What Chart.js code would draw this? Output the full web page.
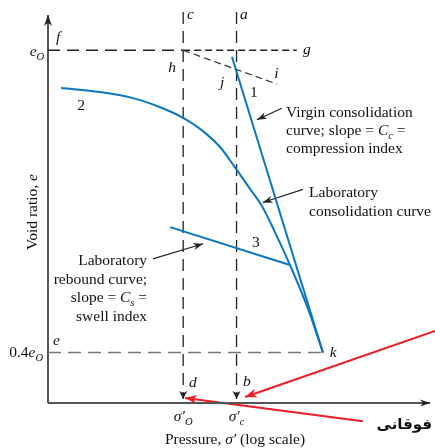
<!DOCTYPE html>
<html>
<head>
<meta charset="utf-8">
<script src="https://cdn.jsdelivr.net/npm/chart.js@4"></script>
<style>
  html, body { margin: 0; padding: 0; background: #fff; }
  canvas { display: block; }
</style>
</head>
<body>
<canvas id="myChart" width="435" height="448"></canvas>
<script>
// x = log of pressure (arbitrary units), y = void ratio as a fraction of e0
const curveX = [0.34, 1.35, 2.21, 2.92, 3.52, 3.96, 4.48, 4.92, 5.26, 5.57, 5.91, 6.30, 6.75, 7.16];
const curveY = [0.925, 0.917, 0.905, 0.887, 0.866, 0.844, 0.808, 0.762, 0.725, 0.691, 0.639, 0.574, 0.491, 0.40];
const virginX = [4.79, 7.16];
const virginY = [0.987, 0.40];
const reboundX = [3.18, 6.30];
const reboundY = [0.649, 0.574];

const e0 = 1.0;
const e04 = 0.4;
const sigmaO = 3.52;
const sigmaC = 4.91;
const gEnd = 6.48;
const iX = 5.96, iY = 0.933;
const kX = 7.16;
const yMin = 0.3, yMax = 1.07;
const xMin = 0, xMax = 10;

// pointer arrows (tail -> tip)
const virginPtrX = [6.09, 5.44], virginPtrY = [0.885, 0.862];
const labPtrX = [6.64, 5.59], labPtrY = [0.724, 0.698];
const reboundPtrX = [2.73, 4.04], reboundPtrY = [0.586, 0.616];
const red1X = [10.08, 5.13], red1Y = [0.443, 0.312];
const red2X = [8.20, 3.57], red2Y = [0.264, 0.310];

const BLUE = '#0a76c0';
const RED = '#ee1c24';

function pts(xs, ys) {
    return xs.map((x, i) => ({ x: x, y: ys[i] }));
}

const S = 15.5;
const notes = [
    { x: -0.10, y: 0.989, align: 'right', parts: [['e', 'i'], ['O', 's']] },
    { x: 0.21, y: 1.016, parts: [['f', 'i']] },
    { x: 3.13, y: 0.957, parts: [['h', 'i']] },
    { x: 3.62, y: 1.062, parts: [['c', 'i']] },
    { x: 5.00, y: 1.062, parts: [['a', 'i']] },
    { x: 6.64, y: 0.993, parts: [['g', 'i']] },
    { x: 5.89, y: 0.945, parts: [['i', 'i']] },
    { x: 4.48, y: 0.927, parts: [['j', 'i']] },
    { x: 5.26, y: 0.907, parts: [['1', 'r']] },
    { x: 0.76, y: 0.881, parts: [['2', 'r']] },
    { x: 5.31, y: 0.610, parts: [['3', 'r']] },
    { x: 0.13, y: 0.415, parts: [['e', 'i']] },
    { x: -0.13, y: 0.391, align: 'right', parts: [['0.4', 'r'], ['e', 'i'], ['O', 's']] },
    { x: 7.34, y: 0.391, parts: [['k', 'i']] },
    { x: 3.67, y: 0.332, parts: [['d', 'i']] },
    { x: 5.08, y: 0.334, parts: [['b', 'i']] },
    { x: sigmaO, y: 0.264, align: 'center', parts: [['σ′', 'i'], ['O', 's']] },
    { x: sigmaC, y: 0.264, align: 'center', parts: [['σ′', 'i'], ['c', 's']] },
    { x: 4.87, y: 0.219, align: 'center', parts: [['Pressure, ', 'r'], ['σ′', 'i'], [' (log scale)', 'r']] },
    { x: -0.29, y: 0.679, align: 'center', rotate: true, parts: [['Void ratio, ', 'r'], ['e', 'i']] },
    { x: 6.20, y: 0.868, parts: [['Virgin consolidation', 'r']] },
    { x: 6.20, y: 0.832, parts: [['curve; slope = ', 'r'], ['C', 'i'], ['c', 's'], [' =', 'r']] },
    { x: 6.20, y: 0.796, parts: [['compression index', 'r']] },
    { x: 6.80, y: 0.709, parts: [['Laboratory', 'r']] },
    { x: 6.80, y: 0.671, parts: [['consolidation curve', 'r']] },
    { x: 2.58, y: 0.574, align: 'right', parts: [['Laboratory', 'r']] },
    { x: 2.58, y: 0.536, align: 'right', parts: [['rebound curve;', 'r']] },
    { x: 2.58, y: 0.500, align: 'right', parts: [['slope = ', 'r'], ['C', 'i'], ['s', 's'], [' =', 'r']] },
    { x: 2.58, y: 0.463, align: 'right', parts: [['swell index', 'r']] },
    { x: 10.0, y: 0.248, align: 'right', parts: [['فوقانی', 'b']] }
];

function fontFor(style) {
    if (style == 'b') return 'bold 15px "DejaVu Sans"';
    if (style == 's') return 'italic ' + (S * 0.68) + 'px "Liberation Serif"';
    if (style == 'i') return 'italic ' + S + 'px "Liberation Serif"';
    return S + 'px "Liberation Serif"';
}

function drawRich(ctx, parts, x, y, align) {
    ctx.textAlign = 'left';
    ctx.textBaseline = 'alphabetic';
    let total = 0;
    parts.forEach(p => {
        ctx.font = fontFor(p[1]);
        total += ctx.measureText(p[0]).width;
    });
    let cx = x;
    if (align == 'right') cx = x - total;
    if (align == 'center') cx = x - total / 2;
    parts.forEach(p => {
        ctx.font = fontFor(p[1]);
        ctx.fillText(p[0], cx, p[1] == 's' ? y + 4 : y);
        cx += ctx.measureText(p[0]).width;
    });
}

function drawHead(ctx, x0, y0, x1, y1, color, h) {
    const ang = Math.atan2(y1 - y0, x1 - x0);
    ctx.save();
    ctx.translate(x1, y1);
    ctx.rotate(ang);
    ctx.setLineDash([]);
    ctx.fillStyle = color;
    ctx.beginPath();
    ctx.moveTo(0, 0);
    ctx.lineTo(-h[0], -h[1] / 2);
    ctx.lineTo(-h[0] * 0.7, 0);
    ctx.lineTo(-h[0], h[1] / 2);
    ctx.closePath();
    ctx.fill();
    ctx.restore();
}

const overlay = {
    id: 'overlay',
    afterDatasetsDraw(chart) {
        const ctx = chart.ctx;
        const xs = chart.scales.x, ys = chart.scales.y;
        chart.data.datasets.forEach((ds, i) => {
            if (!ds.arrow) return;
            const els = chart.getDatasetMeta(i).data;
            const a = els[els.length - 2], b = els[els.length - 1];
            drawHead(ctx, a.x, a.y, b.x, b.y, ds.headColor || ds.borderColor, ds.arrow);
        });
        ctx.save();
        ctx.fillStyle = '#111';
        notes.forEach(n => {
            const px = xs.getPixelForValue(n.x), py = ys.getPixelForValue(n.y);
            if (n.rotate) {
                ctx.save();
                ctx.translate(px, py);
                ctx.rotate(-Math.PI / 2);
                drawRich(ctx, n.parts, 0, 0, n.align);
                ctx.restore();
            } else {
                drawRich(ctx, n.parts, px, py, n.align || 'left');
            }
        });
        ctx.restore();
    }
};

function line(xs, ys, color, width, dash, arrow) {
    return {
        data: pts(xs, ys),
        showLine: true,
        borderColor: color,
        borderWidth: width,
        borderDash: dash || [],
        pointRadius: 0,
        fill: false,
        clip: false,
        arrow: arrow
    };
}

const curveSet = line(curveX, curveY, BLUE, 2);
curveSet.cubicInterpolationMode = 'monotone';
const yAxisSet = line([xMin, xMin], [yMin, yMax], '#555', 2, [], [11, 8]);
yAxisSet.headColor = '#222';
const xAxisSet = line([xMin, 9.95], [yMin, yMin], '#555', 2, [], [10, 7]);
xAxisSet.headColor = '#222';

const datasets = [
    curveSet,
    line(virginX, virginY, BLUE, 2),
    line(reboundX, reboundY, BLUE, 2),
    line([xMin, sigmaO], [e0, e0], '#222', 1.3, [12, 7]),
    line([sigmaO, gEnd], [e0, e0], '#222', 1.3, [7, 4]),
    line([sigmaO, iX], [e0, iY], '#333', 1.2, [7, 4]),
    line([sigmaO, sigmaO], [1.076, 0.308], '#222', 1.3, [12, 7], [8, 8]),
    line([sigmaC, sigmaC], [1.076, 0.308], '#222', 1.3, [12, 7], [8, 8]),
    line([xMin, kX], [e04, e04], '#777', 1.5, [13, 7]),
    yAxisSet,
    xAxisSet,
    line(virginPtrX, virginPtrY, '#222', 1.2, [], [10, 7]),
    line(labPtrX, labPtrY, '#222', 1.2, [], [10, 7]),
    line(reboundPtrX, reboundPtrY, '#222', 1.2, [], [10, 7]),
    line(red1X, red1Y, RED, 2, [], [12, 9]),
    line(red2X, red2Y, RED, 2, [], [12, 9])
];

const ctx = document.getElementById('myChart').getContext('2d');
const chartInstance = new Chart(ctx, {
    type: 'scatter',
    data: { datasets: datasets },
    options: {
        responsive: false,
        animation: false,
        devicePixelRatio: 1,
        layout: { padding: { left: 48, right: 3, top: 15, bottom: 45 } },
        scales: {
            x: { type: 'linear', min: xMin, max: xMax, display: false },
            y: { type: 'linear', min: yMin, max: yMax, display: false }
        },
        plugins: {
            legend: { display: false },
            tooltip: { enabled: false }
        }
    },
    plugins: [overlay]
});
</script>
</body>
</html>
